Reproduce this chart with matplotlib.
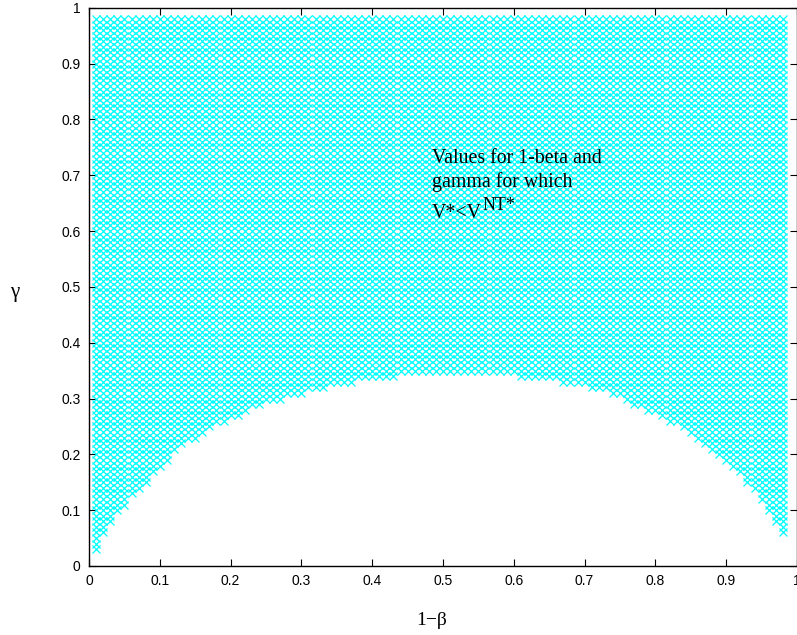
import numpy as np
import matplotlib
matplotlib.use('Agg')
import matplotlib.pyplot as plt

# 1-beta columns of the grid that was tested
one_minus_beta = [round(0.01 * k, 2) for k in range(1, 99)]

# smallest gamma (per column) for which V* < V^NT*
gamma_low = [
    0.03, 0.06, 0.08, 0.10, 0.11, 0.13, 0.14, 0.15, 0.17, 0.18,   # 0.01-0.10
    0.19, 0.21, 0.22, 0.23, 0.23, 0.24, 0.25, 0.26, 0.26, 0.27,   # 0.11-0.20
    0.27, 0.28, 0.29, 0.29, 0.30, 0.30, 0.30, 0.31, 0.31, 0.31,   # 0.21-0.30
    0.32, 0.32, 0.32, 0.33, 0.33, 0.33, 0.33, 0.34, 0.34, 0.34,   # 0.31-0.40
    0.34, 0.34, 0.34, 0.35, 0.35, 0.35, 0.35, 0.35, 0.35, 0.35,   # 0.41-0.50
    0.35, 0.35, 0.35, 0.35, 0.35, 0.35, 0.35, 0.35, 0.35, 0.35,   # 0.51-0.60
    0.34, 0.34, 0.34, 0.34, 0.34, 0.34, 0.33, 0.33, 0.33, 0.33,   # 0.61-0.70
    0.32, 0.32, 0.32, 0.31, 0.31, 0.30, 0.29, 0.29, 0.28, 0.28,   # 0.71-0.80
    0.27, 0.26, 0.26, 0.25, 0.24, 0.23, 0.22, 0.21, 0.20, 0.19,   # 0.81-0.90
    0.18, 0.17, 0.15, 0.14, 0.12, 0.10, 0.08, 0.06]               # 0.91-0.98
gamma_high = 0.98
gamma_step = 0.01

x_ticks = [0, 0.1, 0.2, 0.3, 0.4, 0.5, 0.6, 0.7, 0.8, 0.9, 1]
tick_labels = ['0', '0.1', '0.2', '0.3', '0.4', '0.5', '0.6', '0.7', '0.8', '0.9', '1']

# expand to the grid of points
xs = []
ys = []
for b, lo in zip(one_minus_beta, gamma_low):
    n_lo = int(round(lo / gamma_step))
    n_hi = int(round(gamma_high / gamma_step))
    for k in range(n_lo, n_hi + 1):
        xs.append(b)
        ys.append(k * gamma_step)

plt.rcParams['font.family'] = 'Liberation Sans'

fig = plt.figure(figsize=(7.97, 6.35), dpi=100)
ax = fig.add_axes([0.1117, 0.1087, 0.8883, 0.879])

ax.plot(xs, ys, 'x', color='#00ffff', ms=6, mew=0.9, linestyle='none')

ax.set_xlim(0, 1)
ax.set_ylim(0, 1)
ax.set_xticks(x_ticks)
ax.set_xticklabels(tick_labels)
ax.set_yticks(x_ticks)
ax.set_yticklabels(tick_labels)
ax.tick_params(direction='in', length=5, width=0.8, top=True, right=True,
               labelsize=10, pad=6)
for s in ax.spines.values():
    s.set_linewidth(1.0)

ax.set_xlabel('1\u2212\u03b2', fontfamily='Liberation Serif', fontsize=14,
              va='center')
ax.xaxis.set_label_coords(0.484, -0.097)
ax.set_ylabel('\u03b3', fontfamily='Liberation Serif', fontsize=15,
              rotation=0, va='center', ha='center')
ax.yaxis.set_label_coords(-0.1045, 0.49)

txt_kw = dict(fontfamily='Liberation Serif', fontsize=14.3, va='baseline', ha='left')
ax.text(0.4845, 0.722, 'Values for 1-beta and', **txt_kw)
ax.text(0.4845, 0.679, 'gamma for which', **txt_kw)
t3 = ax.text(0.4845, 0.624, 'V*<V', **txt_kw)
# superscript NT*
ax.annotate('NT*', xy=(1, 0), xycoords=t3, xytext=(0.5, 6),
            textcoords='offset points', fontfamily='Liberation Serif',
            fontsize=13, ha='left', va='bottom')

plt.savefig('out.png', dpi=100)
